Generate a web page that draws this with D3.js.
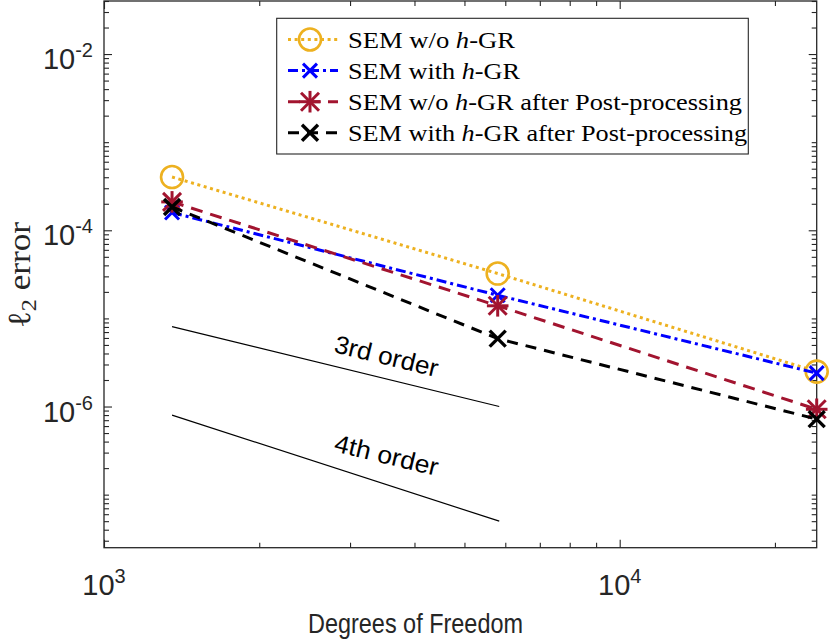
<!DOCTYPE html>
<html>
<head>
<meta charset="utf-8">
<script src="https://cdn.jsdelivr.net/npm/d3@7"></script>
<style>
  body { margin: 0; background: #fff; }
  svg { display: block; }
</style>
</head>
<body>
<svg id="chart"></svg>
<script>
// data
var dof = [1355, 5800, 24100];
var semNoGR = [4.02e-4, 3.23e-5, 2.49e-6];
var semGR = [1.59e-4, 1.83e-5, 2.39e-6];
var semNoGRPost = [2.1e-4, 1.39e-5, 9.3e-7];
var semGRPost = [1.84e-4, 5.9e-6, 7.2e-7];

// reference slopes
var refDof = [1355, 5840];
var ref3rd = [8.07e-6, 1.0e-6];
var ref4th = [8.0e-7, 5.0e-8];

var xMajor = [1e3, 1e4];
var yMajor = [1e-2, 1e-4, 1e-6];
var xLabels = ["3", "4"];
var yLabels = ["-2", "-4", "-6"];

var seriesNames = ["SEM w/o ", "SEM with ", "SEM w/o ", "SEM with "];
var seriesTails = ["-GR", "-GR", "-GR after Post-processing", "-GR after Post-processing"];

var width = 830, height = 640;
var plotL = 104, plotR = 816.7, plotT = 1, plotB = 547.7;
var axisCol = "#262626";

var svg = d3.select("#chart").attr("width", width).attr("height", height);

var x = d3.scaleLog().domain([1000, 24100]).range([plotL, plotR]);
var y = d3.scaleLog().domain([2.5e-8, 0.04]).range([plotB, plotT]);

// minor tick positions
var xMinor = [];
[1e3, 1e4].forEach(function(d) {
  for (var k = 2; k <= 9; k++) if (d * k <= 24100) xMinor.push(d * k);
});
var yMinor = [];
for (var e = -8; e <= -2; e++) {
  for (var k = 1; k <= 9; k++) {
    var v = k * Math.pow(10, e);
    if (v >= 2.5e-8 && v <= 0.04 && !(k == 1 && e % 2 == 0)) yMinor.push(v);
  }
}

// ticks, pointing inward on all four sides
function tickAxis(gen, vals, size, tx, ty) {
  var g = svg.append("g")
    .attr("transform", "translate(" + tx + "," + ty + ")")
    .call(gen.tickValues(vals).tickSize(size).tickFormat(""));
  g.select(".domain").remove();
  g.selectAll("line").attr("stroke", axisCol).attr("stroke-width", 1.1);
}
tickAxis(d3.axisBottom(x), xMajor, -8, 0, plotB);
tickAxis(d3.axisBottom(x), xMinor, -5, 0, plotB);
tickAxis(d3.axisTop(x), xMajor, -8, 0, plotT);
tickAxis(d3.axisTop(x), xMinor, -5, 0, plotT);
tickAxis(d3.axisLeft(y), yMajor, -8, plotL, 0);
tickAxis(d3.axisLeft(y), yMinor, -5, plotL, 0);
tickAxis(d3.axisRight(y), yMajor, -8, plotR, 0);
tickAxis(d3.axisRight(y), yMinor, -5, plotR, 0);

svg.append("rect")
  .attr("x", plotL).attr("y", plotT)
  .attr("width", plotR - plotL).attr("height", plotB - plotT)
  .attr("fill", "none").attr("stroke", axisCol).attr("stroke-width", 1.3);

// tick labels 10^n
var tickFont = "'Liberation Sans', Arial, sans-serif";
xMajor.forEach(function(d, i) {
  var t = svg.append("text")
    .attr("x", x(d)).attr("y", 595)
    .attr("text-anchor", "middle")
    .attr("font-family", tickFont).attr("font-size", 29).attr("fill", axisCol);
  t.append("tspan").text("10");
  t.append("tspan").attr("dy", -12).attr("font-size", 20).text(xLabels[i]);
});
yMajor.forEach(function(d, i) {
  var t = svg.append("text")
    .attr("x", 93).attr("y", y(d) + 15)
    .attr("text-anchor", "end")
    .attr("font-family", tickFont).attr("font-size", 29).attr("fill", axisCol);
  t.append("tspan").text("10");
  t.append("tspan").attr("dy", -12).attr("font-size", 20).text(yLabels[i]);
});

// axis labels
svg.append("text")
  .attr("x", 308).attr("y", 633)
  .attr("font-family", tickFont).attr("font-size", 28).attr("fill", axisCol)
  .attr("textLength", 215).attr("lengthAdjust", "spacingAndGlyphs")
  .text("Degrees of Freedom");

var yl = svg.append("text")
  .attr("transform", "translate(30,328) rotate(-90)")
  .attr("font-family", "'Liberation Serif', 'Times New Roman', serif")
  .attr("font-size", 32).attr("fill", axisCol)
  .attr("textLength", 106).attr("lengthAdjust", "spacingAndGlyphs");
yl.append("tspan").text("\u2113");
yl.append("tspan").attr("dy", 6).attr("font-size", 22).text("2");
yl.append("tspan").attr("dy", -6).text(" error");

// reference slope lines
var line = d3.line().x(function(d) { return x(d[0]); }).y(function(d) { return y(d[1]); });
[ref3rd, ref4th].forEach(function(r) {
  svg.append("path")
    .attr("d", line(d3.zip(refDof, r)))
    .attr("fill", "none").attr("stroke", "#000").attr("stroke-width", 1.2);
});
svg.append("text")
  .attr("transform", "translate(333,352) rotate(13.6)")
  .attr("font-family", tickFont).attr("font-size", 25).attr("fill", "#000")
  .attr("textLength", 106).attr("lengthAdjust", "spacingAndGlyphs")
  .text("3rd order");
svg.append("text")
  .attr("transform", "translate(333,451) rotate(13.6)")
  .attr("font-family", tickFont).attr("font-size", 25).attr("fill", "#000")
  .attr("textLength", 106).attr("lengthAdjust", "spacingAndGlyphs")
  .text("4th order");

// series styling
var series = [
  { vals: semNoGR, color: "#EDB120", dash: "3,3.6", marker: "circle" },
  { vals: semGR, color: "#0000FF", dash: "10,4,3,4", marker: "x" },
  { vals: semNoGRPost, color: "#A2142F", dash: "12,8", marker: "star" },
  { vals: semGRPost, color: "#000000", dash: "11,8", marker: "bigx" }
];

function drawMarker(g, type, cx, cy, color) {
  if (type == "circle") {
    g.append("circle").attr("cx", cx).attr("cy", cy).attr("r", 11)
      .attr("fill", "none").attr("stroke", color).attr("stroke-width", 2.6);
    return;
  }
  var s = type == "x" ? 7 : (type == "star" ? 9 : 8);
  var segs = [[-s, -s, s, s], [-s, s, s, -s]];
  if (type == "star") segs.push([0, -s * 1.2, 0, s * 1.2], [-s * 1.2, 0, s * 1.2, 0]);
  segs.forEach(function(p) {
    g.append("line")
      .attr("x1", cx + p[0]).attr("y1", cy + p[1])
      .attr("x2", cx + p[2]).attr("y2", cy + p[3])
      .attr("stroke", color).attr("stroke-width", type == "bigx" ? 3.4 : 3);
  });
}

series.forEach(function(s) {
  var g = svg.append("g");
  g.append("path")
    .attr("d", line(d3.zip(dof, s.vals)))
    .attr("fill", "none").attr("stroke", s.color)
    .attr("stroke-width", 3).attr("stroke-dasharray", s.dash);
  dof.forEach(function(d, i) { drawMarker(g, s.marker, x(d), y(s.vals[i]), s.color); });
});

// legend
var lg = svg.append("g");
lg.append("rect")
  .attr("x", 276.7).attr("y", 18.3).attr("width", 471.6).attr("height", 135.7)
  .attr("fill", "#fff").attr("stroke", axisCol).attr("stroke-width", 1.1);
var legWidths = [167, 172, 394, 399];
series.forEach(function(s, i) {
  var cy = 39.5 + i * 31.1;
  lg.append("line")
    .attr("x1", 288).attr("x2", 338).attr("y1", cy).attr("y2", cy)
    .attr("stroke", s.color).attr("stroke-width", 3).attr("stroke-dasharray", s.dash);
  drawMarker(lg, s.marker, 310, cy, s.color);
  var t = lg.append("text")
    .attr("x", 348).attr("y", cy + 8)
    .attr("font-family", "'Liberation Serif', 'Times New Roman', serif")
    .attr("font-size", 24).attr("fill", "#000")
    .attr("textLength", legWidths[i]).attr("lengthAdjust", "spacingAndGlyphs");
  t.append("tspan").text(seriesNames[i]);
  t.append("tspan").attr("font-style", "italic").text("h");
  t.append("tspan").text(seriesTails[i]);
});
</script>
</body>
</html>
